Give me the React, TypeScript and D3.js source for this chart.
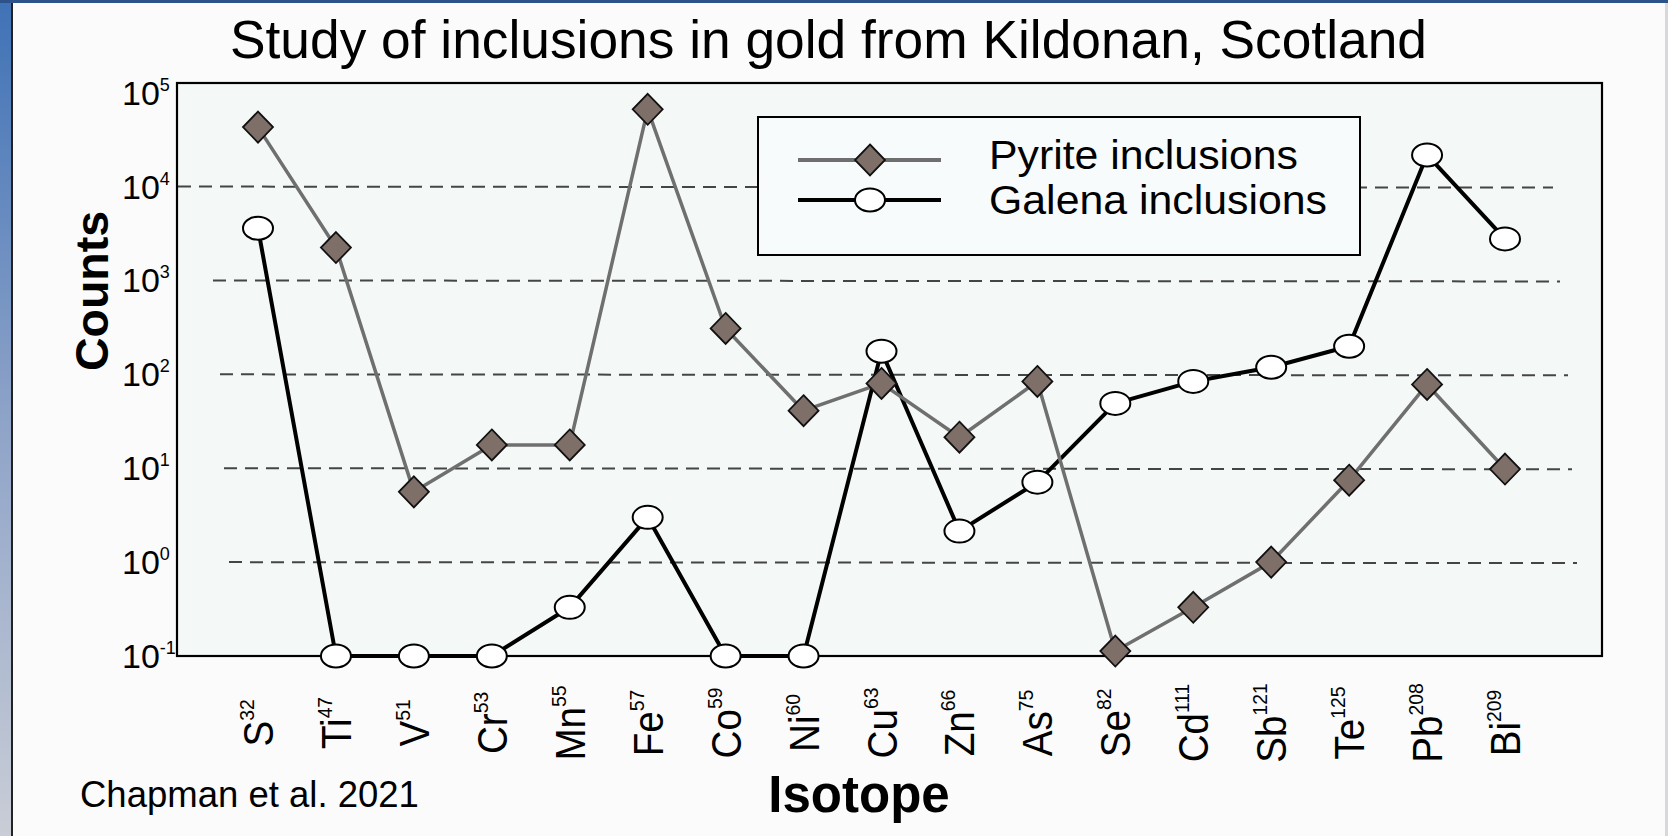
import React from "react";
import * as d3 from "d3";

// Isotopes measured (element symbol + mass number)
const elements = ["S", "Ti", "V", "Cr", "Mn", "Fe", "Co", "Ni", "Cu", "Zn", "As", "Se", "Cd", "Sb", "Te", "Pb", "Bi"];
const massNumbers = ["32", "47", "51", "53", "55", "57", "59", "60", "63", "66", "75", "82", "111", "121", "125", "208", "209"];

// Counts per isotope for each inclusion type
const pyriteCounts = [43000, 2240, 5.6, 17.7, 17.7, 66500, 308, 41, 80, 21.4, 84, 0.113, 0.33, 1.0, 7.45, 78, 9.8];
const galenaCounts = [3600, 0.1, 0.1, 0.1, 0.33, 3.0, 0.1, 0.1, 176, 2.14, 7.1, 49, 84, 119, 199, 21700, 2770];

// Decade exponents shown on the y axis
const yTickExponents = [-1, 0, 1, 2, 3, 4, 5];
const gridExponents = [0, 1, 2, 3, 4];

const seriesNames = ["Pyrite inclusions", "Galena inclusions"];

const W = 1668;
const H = 836;
const plot = { left: 177, right: 1602, top: 83, bottom: 656 };
const FONT = "'Liberation Sans', Arial, Helvetica, sans-serif";

const pyriteFill = "#7e6f68";
const pyriteLine = "#6f6f6f";

const x = d3.scalePoint<string>().domain(elements).range([258, 1505]);
const y = d3.scaleLog().domain([0.1, Math.pow(10, 5.103)]).range([plot.bottom, plot.top]);

const lineGen = d3
  .line<number>()
  .x((_, i) => x(elements[i]) as number)
  .y((d) => y(d));

// dashed guides are slightly inset, as on the original slide
const gridStart: Record<number, number> = { 4: 178, 3: 213, 2: 220, 1: 224, 0: 229 };
const gridEnd: Record<number, number> = { 4: 1553, 3: 1560, 2: 1568, 1: 1572, 0: 1577 };

function Diamond({ cx, cy }: { cx: number; cy: number }) {
  const hw = 15;
  const hh = 15.5;
  return (
    <path
      d={`M${cx},${cy - hh}L${cx + hw},${cy}L${cx},${cy + hh}L${cx - hw},${cy}Z`}
      fill={pyriteFill}
      stroke="#111"
      strokeWidth={1.8}
    />
  );
}

function Oval({ cx, cy }: { cx: number; cy: number }) {
  return <ellipse cx={cx} cy={cy} rx={15} ry={11.5} fill="#fff" stroke="#000" strokeWidth={2} />;
}

export default function App() {
  return (
    <svg
      width={W}
      height={H}
      style={{ position: "absolute", left: 0, top: 0, display: "block" }}
      fontFamily={FONT}
    >
      <defs>
        <linearGradient id="edge" x1="0" y1="0" x2="0" y2="1">
          <stop offset="0" stopColor="#3f72b6" />
          <stop offset="0.5" stopColor="#8ea3c8" />
          <stop offset="1" stopColor="#c9cdd6" />
        </linearGradient>
      </defs>

      {/* slide background and frame */}
      <rect x={0} y={0} width={W} height={H} fill="#fbfbfb" />
      <rect x={0} y={0} width={11} height={H} fill="url(#edge)" />
      <rect x={11} y={0} width={2} height={H} fill="#222" />
      <rect x={0} y={0} width={W} height={3} fill="#2d5189" />
      <rect x={1665} y={3} width={3} height={H} fill="#d6d8dc" />

      {/* title */}
      <text x={230} y={58} fontSize={53.3} fill="#000">
        Study of inclusions in gold from Kildonan, Scotland
      </text>

      {/* plot area */}
      <rect
        x={plot.left}
        y={plot.top}
        width={plot.right - plot.left}
        height={plot.bottom - plot.top}
        fill="#f4f8f7"
      />

      {/* dashed decade guides */}
      {gridExponents.map((e) => (
        <line
          key={e}
          x1={gridStart[e]}
          x2={gridEnd[e]}
          y1={y(Math.pow(10, e))}
          y2={y(Math.pow(10, e)) + 1}
          stroke="#454545"
          strokeWidth={2}
          strokeDasharray="13 8"
        />
      ))}

      <rect
        x={plot.left}
        y={plot.top}
        width={plot.right - plot.left}
        height={plot.bottom - plot.top}
        fill="none"
        stroke="#000"
        strokeWidth={2.2}
      />

      {/* y tick labels */}
      {yTickExponents.map((e) => (
        <text key={e} x={122} y={y(Math.pow(10, e)) + 12} fontSize={34} fill="#000">
          10
          <tspan fontSize={18} dy={-14}>
            {e}
          </tspan>
        </text>
      ))}

      {/* y axis title */}
      <text
        transform={`translate(108,291) rotate(-90)`}
        textAnchor="middle"
        fontSize={46.5}
        fontWeight="bold"
        fill="#000"
      >
        Counts
      </text>

      {/* series lines */}
      <path d={lineGen(galenaCounts) ?? ""} fill="none" stroke="#000" strokeWidth={4} strokeLinejoin="round" />
      <path d={lineGen(pyriteCounts) ?? ""} fill="none" stroke={pyriteLine} strokeWidth={3.5} strokeLinejoin="round" />

      {/* markers */}
      {galenaCounts.map((v, i) => (
        <Oval key={`g${i}`} cx={x(elements[i]) as number} cy={y(v)} />
      ))}
      {pyriteCounts.map((v, i) => (
        <Diamond key={`p${i}`} cx={x(elements[i]) as number} cy={y(v)} />
      ))}

      {/* legend */}
      <g>
        <rect x={758} y={117} width={602} height={138} fill="#f8fbfb" stroke="#000" strokeWidth={2} />
        <line x1={798} x2={941} y1={160} y2={160} stroke={pyriteLine} strokeWidth={4} />
        <Diamond cx={870} cy={160} />
        <line x1={798} x2={941} y1={200} y2={200} stroke="#000" strokeWidth={4} />
        <Oval cx={870} cy={200} />
        <text x={989} y={169} fontSize={40} fill="#000" textLength={309} lengthAdjust="spacingAndGlyphs">
          {seriesNames[0]}
        </text>
        <text x={989} y={214} fontSize={40} fill="#000" textLength={338} lengthAdjust="spacingAndGlyphs">
          {seriesNames[1]}
        </text>
      </g>

      {/* isotope labels */}
      {elements.map((el, i) => (
        <text
          key={el}
          transform={`translate(${(x(el) as number) + 15},723) rotate(-90) scale(0.92,1)`}
          textAnchor="middle"
          fontSize={42}
          fill="#000"
        >
          {el}
          <tspan fontSize={21} dy={-19}>
            {massNumbers[i]}
          </tspan>
        </text>
      ))}

      {/* x axis title */}
      <text x={859} y={812} textAnchor="middle" fontSize={51} fontWeight="bold" fill="#000">
        Isotope
      </text>

      {/* source note */}
      <text x={80} y={807} fontSize={36.5} fill="#000">
        Chapman et al. 2021
      </text>
    </svg>
  );
}
